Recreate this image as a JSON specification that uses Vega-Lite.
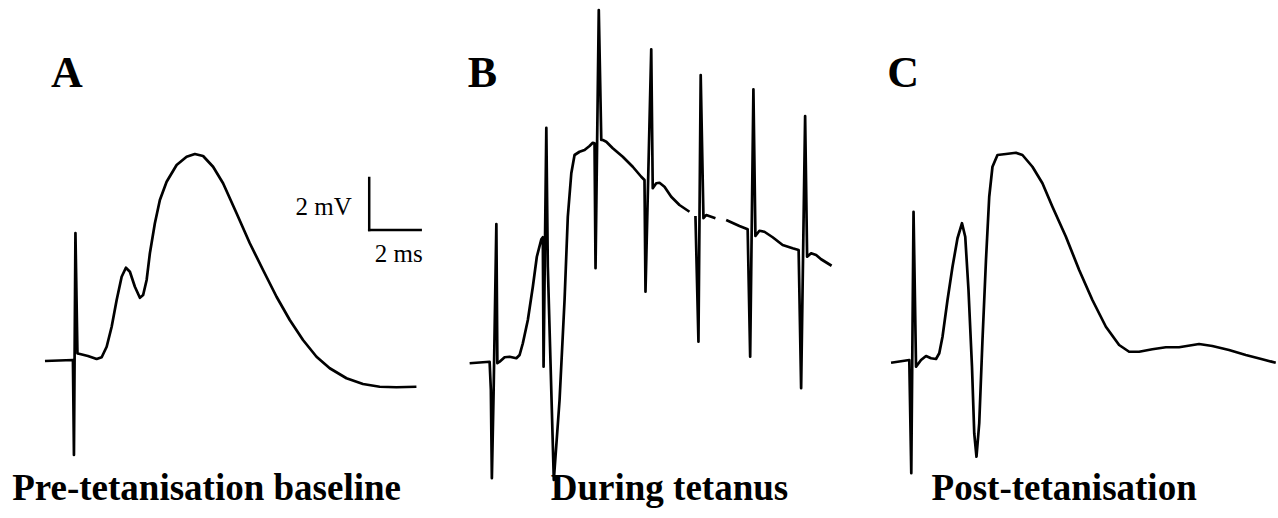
{
  "$schema": "https://vega.github.io/schema/vega-lite/v6.json",
  "width": 1278,
  "height": 518,
  "autosize": {"type": "fit", "contains": "padding"},
  "padding": 0,
  "background": "white",
  "config": {"view": {"stroke": null}},
  "datasets": {
    "trace": [
      {"s":"A","i":1,"t":1.80,"v":-0.04},{"s":"A","i":2,"t":2.92,"v":0},{"s":"A","i":3,"t":2.96,"v":-3.80},{"s":"A","i":4,"t":3.02,"v":5.08},{"s":"A","i":5,"t":3.10,"v":0.26},{"s":"A","i":6,"t":3.20,"v":0.24},{"s":"A","i":7,"t":3.52,"v":0.16},{"s":"A","i":8,"t":3.87,"v":0.04},{"s":"A","i":9,"t":4.07,"v":0.11},{"s":"A","i":10,"t":4.27,"v":0.53},{"s":"A","i":11,"t":4.47,"v":1.33},{"s":"A","i":12,"t":4.67,"v":2.40},{"s":"A","i":13,"t":4.87,"v":3.33},{"s":"A","i":14,"t":5.04,"v":3.69},{"s":"A","i":15,"t":5.20,"v":3.53},{"s":"A","i":16,"t":5.40,"v":2.93},{"s":"A","i":17,"t":5.60,"v":2.49},{"s":"A","i":18,"t":5.73,"v":2.60},{"s":"A","i":19,"t":5.87,"v":3.20},{"s":"A","i":20,"t":6.00,"v":4.27},{"s":"A","i":21,"t":6.20,"v":5.47},{"s":"A","i":22,"t":6.40,"v":6.40},{"s":"A","i":23,"t":6.67,"v":7.13},{"s":"A","i":24,"t":7.07,"v":7.80},{"s":"A","i":25,"t":7.47,"v":8.13},{"s":"A","i":26,"t":7.80,"v":8.24},{"s":"A","i":27,"t":8.13,"v":8.16},{"s":"A","i":28,"t":8.53,"v":7.73},{"s":"A","i":29,"t":8.93,"v":7.07},{"s":"A","i":30,"t":9.47,"v":5.87},{"s":"A","i":31,"t":10.00,"v":4.67},{"s":"A","i":32,"t":10.53,"v":3.60},{"s":"A","i":33,"t":11.07,"v":2.53},{"s":"A","i":34,"t":11.60,"v":1.60},{"s":"A","i":35,"t":12.13,"v":0.80},{"s":"A","i":36,"t":12.67,"v":0.13},{"s":"A","i":37,"t":13.20,"v":-0.33},{"s":"A","i":38,"t":13.87,"v":-0.73},{"s":"A","i":39,"t":14.53,"v":-0.96},{"s":"A","i":40,"t":15.20,"v":-1.07},{"s":"A","i":41,"t":15.87,"v":-1.09},{"s":"A","i":42,"t":16.67,"v":-1.07},
      {"s":"B1","i":101,"t":18.80,"v":-0.13},{"s":"B1","i":102,"t":19.60,"v":-0.07},{"s":"B1","i":103,"t":19.65,"v":-1.20},{"s":"B1","i":104,"t":19.69,"v":-4.73},{"s":"B1","i":105,"t":19.76,"v":-1.28},{"s":"B1","i":106,"t":19.87,"v":5.44},{"s":"B1","i":107,"t":19.91,"v":-0.13},{"s":"B1","i":108,"t":20.00,"v":-0.07},{"s":"B1","i":109,"t":20.20,"v":0.11},{"s":"B1","i":110,"t":20.40,"v":0.13},{"s":"B1","i":111,"t":20.67,"v":0.07},{"s":"B1","i":112,"t":20.80,"v":0.20},{"s":"B1","i":113,"t":20.93,"v":0.67},{"s":"B1","i":114,"t":21.13,"v":1.60},{"s":"B1","i":115,"t":21.33,"v":2.93},{"s":"B1","i":116,"t":21.49,"v":4.13},{"s":"B1","i":117,"t":21.67,"v":4.83},{"s":"B1","i":118,"t":21.73,"v":4.91},{"s":"B1","i":119,"t":21.76,"v":-0.27},{"s":"B1","i":120,"t":21.87,"v":9.29},{"s":"B1","i":121,"t":21.93,"v":3.73},{"s":"B1","i":122,"t":22.17,"v":-4.80},{"s":"B1","i":123,"t":22.40,"v":-1.60},{"s":"B1","i":124,"t":22.60,"v":2.40},{"s":"B1","i":125,"t":22.73,"v":5.73},{"s":"B1","i":126,"t":22.87,"v":7.47},{"s":"B1","i":127,"t":23.00,"v":8.20},{"s":"B1","i":128,"t":23.20,"v":8.33},{"s":"B1","i":129,"t":23.40,"v":8.40},{"s":"B1","i":130,"t":23.60,"v":8.56},{"s":"B1","i":131,"t":23.73,"v":8.69},{"s":"B1","i":132,"t":23.80,"v":8.67},{"s":"B1","i":133,"t":23.84,"v":3.67},{"s":"B1","i":134,"t":23.97,"v":14.00},{"s":"B1","i":135,"t":24.07,"v":8.80},{"s":"B1","i":136,"t":24.13,"v":8.80},{"s":"B1","i":137,"t":24.27,"v":8.73},{"s":"B1","i":138,"t":24.53,"v":8.47},{"s":"B1","i":139,"t":24.93,"v":8.13},{"s":"B1","i":140,"t":25.33,"v":7.73},{"s":"B1","i":141,"t":25.67,"v":7.33},{"s":"B1","i":142,"t":25.80,"v":7.20},{"s":"B1","i":143,"t":25.84,"v":2.73},{"s":"B1","i":144,"t":26.07,"v":12.43},{"s":"B1","i":145,"t":26.13,"v":6.87},{"s":"B1","i":146,"t":26.27,"v":7.07},{"s":"B1","i":147,"t":26.40,"v":7.09},{"s":"B1","i":148,"t":26.60,"v":6.93},{"s":"B1","i":149,"t":26.87,"v":6.53},{"s":"B1","i":150,"t":27.20,"v":6.20},{"s":"B1","i":151,"t":27.60,"v":5.93},
      {"s":"B2","i":201,"t":27.84,"v":5.76},{"s":"B2","i":202,"t":27.96,"v":0.73},{"s":"B2","i":203,"t":28.05,"v":11.40},{"s":"B2","i":204,"t":28.16,"v":5.67},{"s":"B2","i":205,"t":28.27,"v":5.80},{"s":"B2","i":206,"t":28.47,"v":5.73},{"s":"B2","i":207,"t":28.64,"v":5.67},
      {"s":"B3","i":301,"t":29.07,"v":5.60},{"s":"B3","i":302,"t":29.60,"v":5.36},{"s":"B3","i":303,"t":29.93,"v":5.23},{"s":"B3","i":304,"t":30.03,"v":0.13},{"s":"B3","i":305,"t":30.16,"v":10.83},{"s":"B3","i":306,"t":30.24,"v":4.96},{"s":"B3","i":307,"t":30.40,"v":5.17},{"s":"B3","i":308,"t":30.60,"v":5.13},{"s":"B3","i":309,"t":30.93,"v":4.91},{"s":"B3","i":310,"t":31.33,"v":4.60},{"s":"B3","i":311,"t":31.73,"v":4.47},{"s":"B3","i":312,"t":31.97,"v":4.40},{"s":"B3","i":313,"t":32.07,"v":-1.13},{"s":"B3","i":314,"t":32.23,"v":9.76},{"s":"B3","i":315,"t":32.31,"v":4.13},{"s":"B3","i":316,"t":32.47,"v":4.27},{"s":"B3","i":317,"t":32.67,"v":4.20},{"s":"B3","i":318,"t":32.87,"v":4.03},{"s":"B3","i":319,"t":33.29,"v":3.77},
      {"s":"C","i":401,"t":35.67,"v":-0.11},{"s":"C","i":402,"t":36.40,"v":0},{"s":"C","i":403,"t":36.48,"v":-4.53},{"s":"C","i":404,"t":36.57,"v":5.93},{"s":"C","i":405,"t":36.67,"v":-0.27},{"s":"C","i":406,"t":36.87,"v":0},{"s":"C","i":407,"t":37.07,"v":0.16},{"s":"C","i":408,"t":37.27,"v":0.07},{"s":"C","i":409,"t":37.47,"v":0.04},{"s":"C","i":410,"t":37.60,"v":0.27},{"s":"C","i":411,"t":37.73,"v":0.93},{"s":"C","i":412,"t":37.93,"v":2.40},{"s":"C","i":413,"t":38.13,"v":3.73},{"s":"C","i":414,"t":38.33,"v":4.87},{"s":"C","i":415,"t":38.51,"v":5.47},{"s":"C","i":416,"t":38.64,"v":4.93},{"s":"C","i":417,"t":38.77,"v":2.80},{"s":"C","i":418,"t":38.91,"v":-0.27},{"s":"C","i":419,"t":39.00,"v":-2.93},{"s":"C","i":420,"t":39.09,"v":-3.87},{"s":"C","i":421,"t":39.20,"v":-2.53},{"s":"C","i":422,"t":39.33,"v":0.80},{"s":"C","i":423,"t":39.47,"v":4.00},{"s":"C","i":424,"t":39.60,"v":6.53},{"s":"C","i":425,"t":39.73,"v":7.73},{"s":"C","i":426,"t":39.93,"v":8.20},{"s":"C","i":427,"t":40.27,"v":8.24},{"s":"C","i":428,"t":40.67,"v":8.29},{"s":"C","i":429,"t":40.93,"v":8.20},{"s":"C","i":430,"t":41.33,"v":7.73},{"s":"C","i":431,"t":41.73,"v":7.07},{"s":"C","i":432,"t":42.13,"v":6.13},{"s":"C","i":433,"t":42.67,"v":4.93},{"s":"C","i":434,"t":43.20,"v":3.60},{"s":"C","i":435,"t":43.73,"v":2.40},{"s":"C","i":436,"t":44.27,"v":1.33},{"s":"C","i":437,"t":44.80,"v":0.60},{"s":"C","i":438,"t":45.20,"v":0.33},{"s":"C","i":439,"t":45.60,"v":0.33},{"s":"C","i":440,"t":46.13,"v":0.43},{"s":"C","i":441,"t":46.67,"v":0.51},{"s":"C","i":442,"t":47.20,"v":0.51},{"s":"C","i":443,"t":48.00,"v":0.64},{"s":"C","i":444,"t":48.53,"v":0.56},{"s":"C","i":445,"t":49.20,"v":0.40},{"s":"C","i":446,"t":49.87,"v":0.20},{"s":"C","i":447,"t":50.53,"v":0.03},{"s":"C","i":448,"t":51.07,"v":-0.11}
    ],
    "scalebar": [
      {"t":14.78,"v":7.28,"t2":14.78,"v2":5.20},
      {"t":14.78,"v":5.20,"t2":16.84,"v2":5.20}
    ],
    "letters": [
      {"label":"A","t":2.04,"v":10.92},
      {"label":"B","t":18.72,"v":10.92},
      {"label":"C","t":35.52,"v":10.92}
    ],
    "titles": [
      {"label":"Pre-tetanisation baseline","t":8.27,"v":-5.6},
      {"label":"During tetanus","t":26.8,"v":-5.6},
      {"label":"Post-tetanisation","t":42.6,"v":-5.6}
    ],
    "mvlabel": [
      {"label":"2 mV","t":14.08,"v":5.8}
    ],
    "mslabel": [
      {"label":"2 ms","t":15.0,"v":3.92}
    ]
  },
  "layer": [
    {
      "data": {"name": "trace"},
      "mark": {"type": "line", "color": "black", "strokeWidth": 2.7, "strokeJoin": "round", "interpolate": "linear"},
      "encoding": {
        "x": {"field": "t", "type": "quantitative", "scale": {"domain": [0, 51.12], "nice": false, "zero": false}, "axis": null},
        "y": {"field": "v", "type": "quantitative", "scale": {"domain": [-6.32, 14.4], "nice": false, "zero": false}, "axis": null},
        "detail": {"field": "s", "type": "nominal"},
        "order": {"field": "i", "type": "quantitative"}
      }
    },
    {
      "data": {"name": "scalebar"},
      "mark": {"type": "rule", "color": "black", "strokeWidth": 2.5, "strokeCap": "square"},
      "encoding": {
        "x": {"field": "t", "type": "quantitative"},
        "y": {"field": "v", "type": "quantitative"},
        "x2": {"field": "t2"},
        "y2": {"field": "v2"}
      }
    },
    {
      "data": {"name": "letters"},
      "mark": {"type": "text", "font": "Liberation Serif", "fontWeight": "bold", "fontSize": 44, "align": "left", "baseline": "alphabetic", "color": "black"},
      "encoding": {
        "x": {"field": "t", "type": "quantitative"},
        "y": {"field": "v", "type": "quantitative"},
        "text": {"field": "label"}
      }
    },
    {
      "data": {"name": "titles"},
      "mark": {"type": "text", "font": "Liberation Serif", "fontWeight": "bold", "fontSize": 37, "align": "center", "baseline": "alphabetic", "color": "black"},
      "encoding": {
        "x": {"field": "t", "type": "quantitative"},
        "y": {"field": "v", "type": "quantitative"},
        "text": {"field": "label"}
      }
    },
    {
      "data": {"name": "mvlabel"},
      "mark": {"type": "text", "font": "Liberation Serif", "fontSize": 25, "align": "right", "baseline": "alphabetic", "color": "black"},
      "encoding": {
        "x": {"field": "t", "type": "quantitative"},
        "y": {"field": "v", "type": "quantitative"},
        "text": {"field": "label"}
      }
    },
    {
      "data": {"name": "mslabel"},
      "mark": {"type": "text", "font": "Liberation Serif", "fontSize": 25, "align": "left", "baseline": "alphabetic", "color": "black"},
      "encoding": {
        "x": {"field": "t", "type": "quantitative"},
        "y": {"field": "v", "type": "quantitative"},
        "text": {"field": "label"}
      }
    }
  ]
}
